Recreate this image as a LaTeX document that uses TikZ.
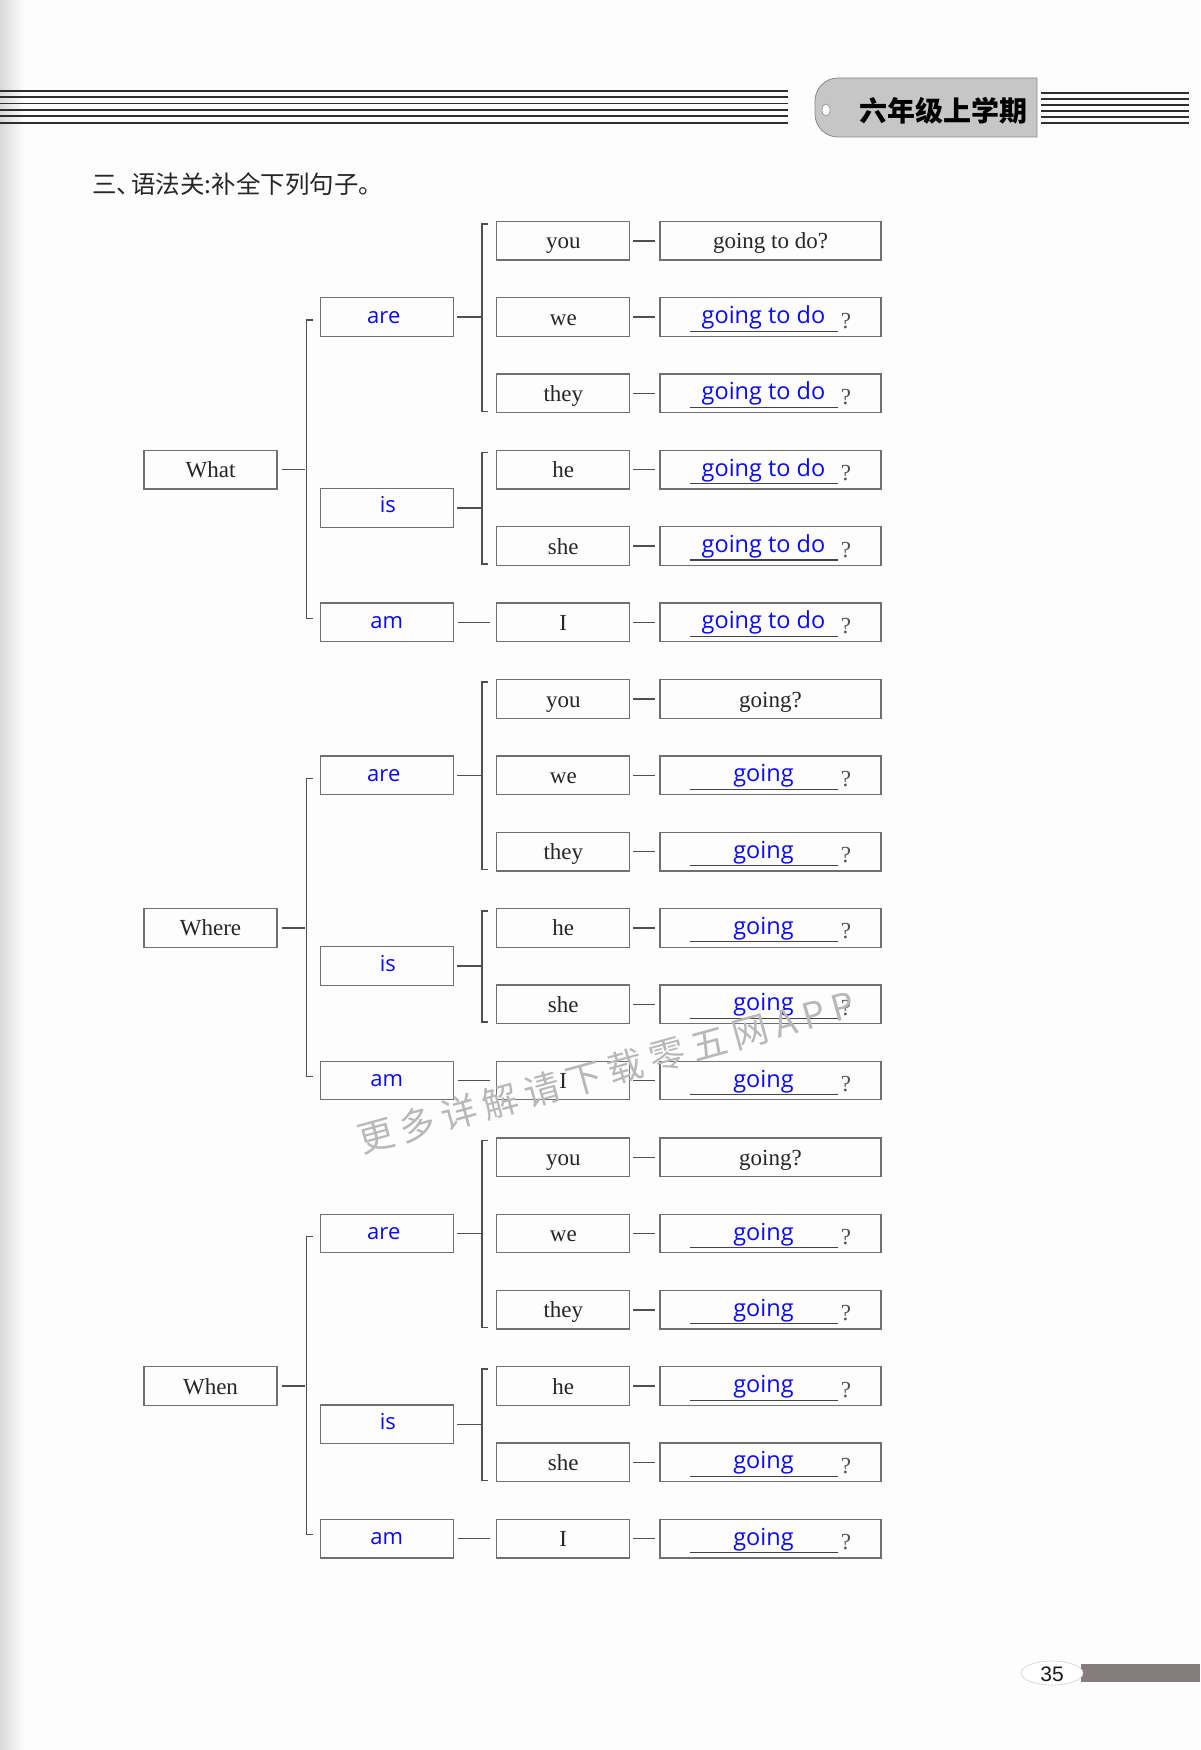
\documentclass[tikz,border=0pt]{standalone}
\usepackage{fontspec}
\setmainfont{Liberation Serif}
\newfontfamily\cjk{Noto Sans CJK SC}
\newfontfamily\wmfont[LetterSpace=20]{Noto Sans CJK SC}
\newfontfamily\ansfont{Open Sans}
\newfontfamily\numfont{Liberation Sans}
\usetikzlibrary{calc,shapes.geometric}
\definecolor{pagebg}{HTML}{FDFDFD}
\definecolor{boxline}{HTML}{707070}
\definecolor{connline}{HTML}{505050}
\definecolor{txtdark}{HTML}{262626}
\definecolor{qgray}{HTML}{505050}
\definecolor{ansblue}{HTML}{0A0AF5}
\definecolor{ulinecol}{HTML}{44444E}
\definecolor{hdrline}{HTML}{2E2E2E}
\definecolor{tagfill}{HTML}{C6C6C6}
\definecolor{tagline}{HTML}{8A8A8A}
\definecolor{barfill}{HTML}{857D7D}
\definecolor{wmgray}{HTML}{B8B8B8}
\begin{document}
\begin{tikzpicture}[x=1pt,y=-1pt,
  wbox/.style={draw=boxline,line width=1.3pt,minimum width=133pt,minimum height=38.6pt,inner sep=0pt},
  abox/.style={draw=boxline,line width=1.3pt,minimum width=221pt,minimum height=38.6pt,inner sep=0pt},
  conn/.style={draw=connline,line width=1.4pt},
  hdr/.style={draw=hdrline,line width=1.7pt},
  uline/.style={draw=ulinecol,line width=1.1pt},
  serif/.style={font=\fontsize{23}{23}\selectfont,text=txtdark,inner sep=0pt},
  bluesm/.style={font=\ansfont\fontsize{22}{22}\selectfont,text=ansblue,inner sep=0pt},
  bluelg/.style={font=\ansfont\fontsize{23.5}{23.5}\selectfont,text=ansblue,inner sep=0pt},
  qmark/.style={font=\fontsize{23}{23}\selectfont,text=qgray,inner sep=0pt}
]
\useasboundingbox (0,0) rectangle (1200,1750);
\fill[pagebg] (0,0) rectangle (1200,1750);
\shade[left color=gray!30,right color=pagebg] (0,0) rectangle (24,1750);

% header rules
\foreach \k in {0,...,5}{
  \draw[hdr] (0,{90.7+6.4*\k}) -- (788,{90.7+6.4*\k});
  \draw[hdr] (1041,{92.7+6.1*\k}) -- (1189,{92.7+6.1*\k});
}
% header tag
\draw[fill=tagfill,draw=tagline,line width=0.8pt]
  (1037,78) -- (838,78) to[out=180,in=90] (815,101) -- (815,114)
  to[out=-90,in=180] (838,137) -- (1037,137) -- cycle;
\draw[fill=white,draw=tagline,line width=0.6pt] (826,110) ellipse [x radius=4,y radius=6];
\node[font=\cjk\bfseries\fontsize{28}{28}\selectfont,text=black,inner sep=0pt] (tag) at (943,110.5) {六年级上学期};

% title
\node[font=\cjk\fontsize{24.5}{24.5}\selectfont,text=black!85,anchor=west,inner sep=0pt] (title) at (92,184) {三、\kern-10pt语法关:补全下列句子。};

% three blocks
\foreach \b/\q in {0/What,1/Where,2/When}{
  \pgfmathsetmacro\yo{240.8+458.2*\b}
  % column 1
  \node[wbox] (q\b) at (210.5,{\yo+3*76.3}) {};
  \node[serif,anchor=base] (qt\b) at ([yshift=-8pt]q\b.center) {\q};
  % column 2
  \node[wbox] (a\b) at (386.8,{\yo+1*76.3}) {};
  \node[bluesm,anchor=base] (at\b) at ([xshift=-3pt,yshift=-6pt]a\b.center) {are};
  \node[wbox] (i\b) at (386.8,{\yo+3.5*76.3}) {};
  \node[bluesm,anchor=base] (it\b) at ([xshift=1pt,yshift=-5pt]i\b.center) {is};
  \node[wbox] (m\b) at (386.8,{\yo+5*76.3}) {};
  \node[bluesm,anchor=base] (mt\b) at ([xshift=0pt,yshift=-6pt]m\b.center) {am};
  % column 3 and 4
  \foreach \w [count=\k from 0] in {you,we,they,he,she,I}{
    \node[wbox] (p\b\k) at (563.3,{\yo+\k*76.3}) {};
    \node[serif,anchor=base] (pt\b\k) at ([yshift=-8pt]p\b\k.center) {\w};
    \node[abox] (g\b\k) at (770.5,{\yo+\k*76.3}) {};
    \draw[conn] ([xshift=3pt]p\b\k.east) -- ([xshift=-4pt]g\b\k.west);
    \ifnum\k=0
      \node[serif,anchor=base] (gt\b\k) at ([yshift=-8pt]g\b\k.center) {\ifnum\b=0 going to do?\else going?\fi};
    \else
      \node[bluelg,anchor=base] (gt\b\k) at ([xshift=-7pt,yshift=-6.5pt]g\b\k.center) {\ifnum\b=0 going to do\else going\fi};
      \draw[uline] ([xshift=-80.5pt,yshift=-14pt]g\b\k.center) -- ([xshift=67.5pt,yshift=-14pt]g\b\k.center);
      \node[qmark,anchor=base] (gq\b\k) at ([xshift=75.5pt,yshift=-11pt]g\b\k.center) {?};
    \fi
  }
  % connectors level 1
  \draw[conn] ([xshift=4pt]q\b.east) -- ([xshift=27pt]q\b.east);
  \draw[conn] ([xshift=-7pt,yshift=-3pt]a\b.west) -- ([xshift=-13pt,yshift=-3pt]a\b.west)
     -- ([xshift=-13pt,yshift=4pt]m\b.west) -- ([xshift=-7pt,yshift=4pt]m\b.west);
  % connectors level 2
  \draw[conn] ([xshift=3pt]a\b.east) -- ([xshift=28pt]a\b.east);
  \draw[conn] ([xshift=-8pt,yshift=-3pt]p\b0.north west) -- ([xshift=-14pt,yshift=-3pt]p\b0.north west)
     -- ([xshift=-14pt,yshift=2pt]p\b2.south west) -- ([xshift=-8pt,yshift=2pt]p\b2.south west);
  \draw[conn] ([xshift=3pt]i\b.east) -- ([xshift=28pt]i\b.east);
  \draw[conn] ([xshift=-8pt,yshift=-3pt]p\b3.north west) -- ([xshift=-14pt,yshift=-3pt]p\b3.north west)
     -- ([xshift=-14pt,yshift=2pt]p\b4.south west) -- ([xshift=-8pt,yshift=2pt]p\b4.south west);
  \draw[conn] ([xshift=4pt]m\b.east) -- ([xshift=-6pt]p\b5.west);
}

% watermark
\node[font=\wmfont\fontsize{36}{36}\selectfont,text=wmgray,rotate=15.5,inner sep=0pt] (wm) at (606,1072) {更多详解请下载零五网APP};

% page number
\fill[barfill] (1081,1664) rectangle (1200,1682);
\node[draw=gray!35,fill=white,ellipse,minimum width=62pt,minimum height=24pt,inner sep=0pt,line width=0.6pt] (pn) at (1052,1673) {};
\node[font=\numfont\fontsize{21}{21}\selectfont,text=black!90,inner sep=0pt] (pnt) at (1052,1674) {35};
\end{tikzpicture}
\end{document}
